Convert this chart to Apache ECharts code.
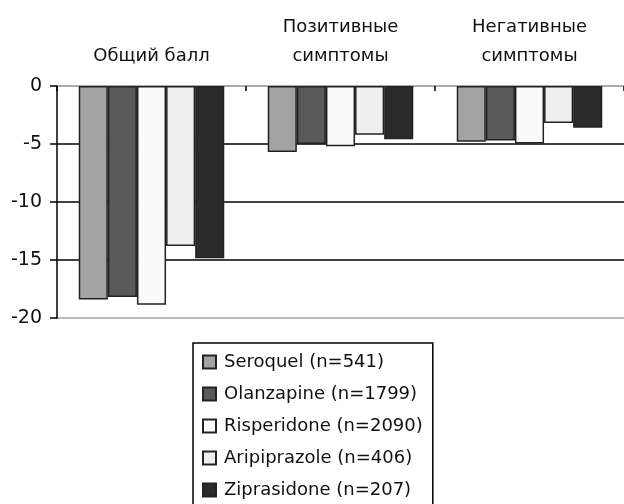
<!DOCTYPE html>
<html><head><meta charset="utf-8">
<script src="https://cdn.jsdelivr.net/npm/echarts@6/dist/echarts.min.js"></script>
<style>html,body{margin:0;padding:0;background:#fff}#c{width:624px;height:504px}</style>
</head><body><div id="c"></div>
<script>
const categories = ['Общий балл', 'Позитивные\nсимптомы', 'Негативные\nсимптомы'];
const seroquel = [-18.4, -5.7, -4.8];
const olanzapine = [-18.2, -5.0, -4.7];
const risperidone = [-18.85, -5.2, -4.95];
const aripiprazole = [-13.8, -4.2, -3.2];
const ziprasidone = [-14.85, -4.6, -3.6];
const seriesNames = ['Seroquel (n=541)', 'Olanzapine (n=1799)', 'Risperidone (n=2090)', 'Aripiprazole (n=406)', 'Ziprasidone (n=207)'];
const seriesData = [seroquel, olanzapine, risperidone, aripiprazole, ziprasidone];
const colors = ['#a3a3a3', '#595959', '#fafafa', '#eeeeee', '#2b2b2b'];
const yTicks = [-20, -15, -10, -5, 0];

const font = '"DejaVu Sans", sans-serif';
const chart = echarts.init(document.getElementById('c'), null, {renderer: 'canvas'});
chart.setOption({
  animation: false,
  textStyle: {fontFamily: font},
  grid: {left: 57, right: 0, top: 86, bottom: 186, containLabel: false},
  xAxis: {
    type: 'category', position: 'top', data: categories,
    axisLine: {show: true, onZero: false, lineStyle: {color: '#a6a6a6', width: 1.5}},
    axisTick: {show: true, inside: true, length: 5, lineStyle: {color: '#000', width: 1.5}},
    axisLabel: {fontSize: 18, color: '#111', lineHeight: 29, margin: 15, fontFamily: font},
    splitLine: {show: false}
  },
  yAxis: {
    type: 'value', min: yTicks[0], max: yTicks[yTicks.length - 1], interval: 5,
    axisLine: {show: true, lineStyle: {color: '#000', width: 1.5}},
    axisTick: {show: true, inside: false, length: 7, lineStyle: {color: '#000', width: 1.5}},
    axisLabel: {fontSize: 19, color: '#111', margin: 15, fontFamily: font},
    splitLine: {show: true, lineStyle: {color: ['#a6a6a6', '#000', '#000', '#000', '#a6a6a6'], width: 1.5}}
  },
  legend: {
    orient: 'vertical', left: 193, top: 343, height: 300,
    data: seriesNames,
    itemWidth: 13, itemHeight: 13, itemGap: 14,
    padding: [10, 10, 40, 9],
    borderColor: '#000', borderWidth: 1.5,
    textStyle: {fontSize: 18, color: '#111', fontFamily: font, padding: [0, 0, 0, 3]},
    icon: 'rect'
  },
  series: seriesData.map((d, i) => ({
    name: seriesNames[i], type: 'bar', data: d,
    barGap: '0%', barCategoryGap: '23%',
    itemStyle: {color: colors[i], borderColor: '#222', borderWidth: 1.5}
  }))
});
</script></body></html>
